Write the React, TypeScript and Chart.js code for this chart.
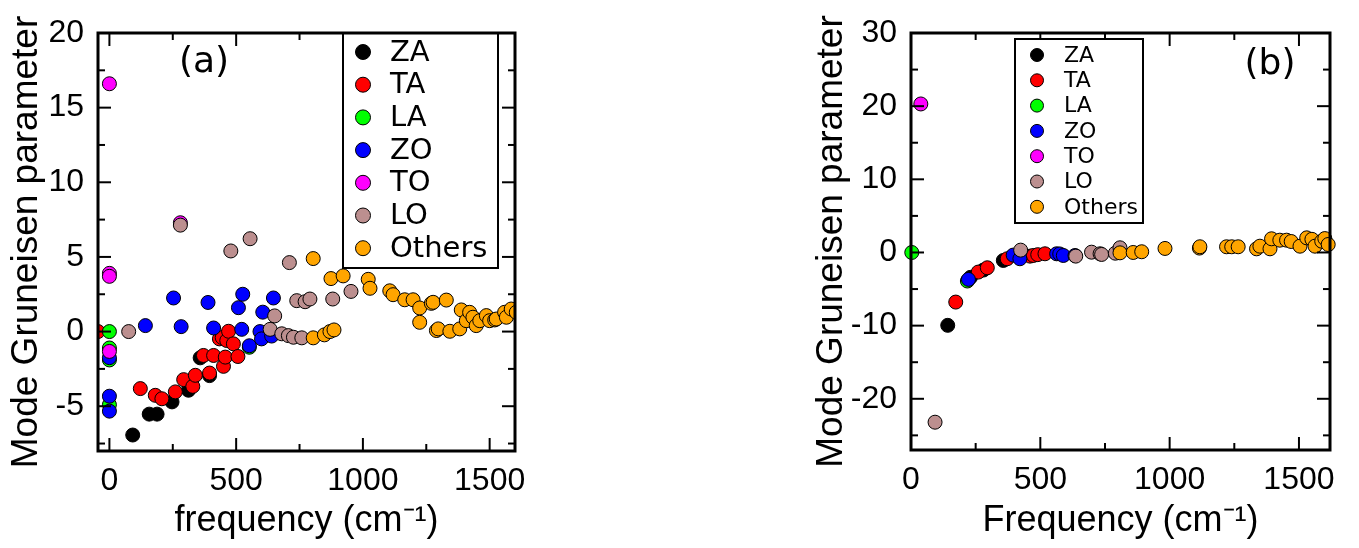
import React, { useEffect, useRef } from "react";
import { Chart, registerables } from "chart.js";

Chart.register(...registerables);

type Pt = [number, number];

// ---------- shared ----------
const seriesNames = ["ZA", "TA", "LA", "ZO", "TO", "LO", "Others"];
const seriesColors = ["#000000", "#ff0000", "#00ff00", "#0000ff", "#ff00ff", "#bc8f8f", "#ffa500"];
const xMajorTicks = [0, 500, 1000, 1500];
const xMinorTicks = [250, 750, 1250];

// ---------- panel (a) ----------
const yMajorTicksA = [-5, 0, 5, 10, 15, 20];
const yMinorTicksA = [-7.5, -2.5, 2.5, 7.5, 12.5, 17.5];

const zaA: Pt[] = [[92, -6.93], [157, -5.53], [188, -5.53], [247, -4.71], [312, -3.93], [358, -1.76], [395, -2.95], [440, -0.45]];
const taA: Pt[] = [[-45, 0], [122, -3.82], [181, -4.27], [207, -4.5], [260, -4.04], [293, -3.22], [329, -3.67], [339, -2.93], [371, -1.6], [395, -2.78], [411, -1.6], [434, -0.49], [445, -0.4], [450, -2.33], [457, -1.71], [463, -0.6], [470, 0.02], [489, -0.82], [507, -1.67]];
const laA: Pt[] = [[0, 0], [0, -1.1], [0, -1.9], [0, -4.9], [552, -1.05]];
const zoA: Pt[] = [[0, -1.75], [0, -4.33], [0, -5.33], [142, 0.4], [253, 2.25], [283, 0.33], [389, 1.95], [411, 0.24], [509, 1.6], [522, 0.15], [526, 2.5], [552, -0.95], [594, 0], [600, -0.49], [605, 1.3], [640, -0.3], [647, 2.25]];
const toA: Pt[] = [[0, 16.6], [0, 3.9], [0, 3.7], [0, -1.33], [280, 7.29]];
const loA: Pt[] = [[76, 0], [280, 7.13], [479, 5.4], [555, 6.22], [634, 0.15], [652, 1.05], [680, -0.15], [706, -0.27], [710, 4.62], [726, -0.38], [739, 2.07], [759, -0.42], [772, 2.0], [791, 2.18], [881, 2.18], [953, 2.69]];
const othersA: Pt[] = [[804, 4.89], [804, -0.42], [848, -0.22], [870, 0], [886, 0.11], [874, 3.55], [922, 3.73], [1021, 3.5], [1028, 2.9], [1106, 2.73], [1119, 2.47], [1165, 2.13], [1198, 2.13], [1224, 1.58], [1224, 0.62], [1270, 1.89], [1277, 1.96], [1329, 2.11], [1290, 0.07], [1297, 0.18], [1343, 0.02], [1382, 0.18], [1388, 1.45], [1408, 0.73], [1421, 1.29], [1434, 0.96], [1447, 0.4], [1461, 0.73], [1487, 1.07], [1500, 0.73], [1520, 0.78], [1526, 0.84], [1559, 1.29], [1566, 0.96], [1585, 1.51], [1605, 1.29]];

// ---------- panel (b) ----------
const yMajorTicksB = [-20, -10, 0, 10, 20, 30];
const yMinorTicksB = [-25, -15, -5, 5, 15, 25];

const zaB: Pt[] = [[142, -9.96], [230, -3.4], [280, -2.4], [357, -1.09]];
const taB: Pt[] = [[173, -6.78], [260, -2.68], [295, -2.09], [372, -0.86], [460, -0.5], [473, -0.41], [490, -0.3], [518, -0.18]];
const laB: Pt[] = [[3, 0], [218, -3.9]];
const zoB: Pt[] = [[222, -3.68], [395, -0.36], [421, -0.86], [563, -0.18], [575, -0.2], [589, -0.41], [634, -0.41]];
const toB: Pt[] = [[38, 20.3]];
const loB: Pt[] = [[93, -23.2], [424, 0.32], [637, -0.5], [698, 0.04], [731, -0.18], [737, -0.27], [790, -0.1], [808, 0.64]];
const othersB: Pt[] = [[808, -0.05], [859, 0], [892, 0.1], [982, 0.55], [1115, 0.6], [1117, 0.78], [1220, 0.78], [1240, 0.78], [1265, 0.78], [1336, 0.5], [1349, 0.86], [1388, 0.5], [1394, 1.87], [1426, 1.68], [1452, 1.68], [1470, 1.5], [1504, 0.86], [1530, 2.0], [1550, 1.8], [1562, 0.86], [1588, 1.54], [1600, 1.9], [1613, 1.09]];

type PanelCfg = {
  tag: string;
  left: number;
  width: number;
  series: Pt[][];
  xMin: number;
  xMax: number;
  yMin: number;
  yMax: number;
  yMajor: number[];
  yMinor: number[];
  xTitle: string;
  yAxisWidth: number;
  xAxisHeight: number;
  padTop: number;
  padRight: number;
  yTitlePad: number;
  clip: boolean;
  label: string;
  labelX: number;
  labelY: number;
  legend: { x: number; y: number; w: number; h: number; mx: number; tx: number; row0: number; step: number; font: number; r: number };
};

const panelA: PanelCfg = {
  tag: "a",
  left: 0,
  width: 540,
  series: [zaA, taA, laA, zoA, toA, loA, othersA],
  xMin: -45,
  xMax: 1600,
  yMin: -8,
  yMax: 20,
  yMajor: yMajorTicksA,
  yMinor: yMinorTicksA,
  xTitle: "frequency (cm\u207B\u00B9)",
  yAxisWidth: 98,
  xAxisHeight: 97,
  padTop: 33,
  padRight: 25,
  yTitlePad: 5,
  clip: true,
  label: "(a)",
  labelX: 204,
  labelY: 63,
  legend: { x: 343, y: 33, w: 155, h: 235, mx: 363, tx: 390, row0: 52, step: 32.7, font: 29, r: 7.5 },
};

const panelB: PanelCfg = {
  tag: "b",
  left: 800,
  width: 559,
  series: [zaB, taB, laB, zoB, toB, loB, othersB],
  xMin: 0,
  xMax: 1620,
  yMin: -27,
  yMax: 30,
  yMajor: yMajorTicksB,
  yMinor: yMinorTicksB,
  xTitle: "Frequency (cm\u207B\u00B9)",
  yAxisWidth: 111,
  xAxisHeight: 98,
  padTop: 33,
  padRight: 29,
  yTitlePad: 10,
  clip: false,
  label: "(b)",
  labelX: 470,
  labelY: 65,
  legend: { x: 215, y: 39, w: 128, h: 184, mx: 237, tx: 264, row0: 55, step: 25.3, font: 22, r: 6.5 },
};

function makeDecorPlugin(cfg: PanelCfg) {
  return {
    id: "decor_" + cfg.tag,
    afterDatasetsDraw(chart: any) {
      const { ctx, chartArea: a, scales } = chart;
      const xs = scales.x;
      const ys = scales.y;
      ctx.save();
      ctx.strokeStyle = "#000";
      ctx.lineCap = "butt";
      const line = (x1: number, y1: number, x2: number, y2: number) => {
        ctx.beginPath();
        ctx.moveTo(x1, y1);
        ctx.lineTo(x2, y2);
        ctx.stroke();
      };
      ctx.lineWidth = 2;
      const major = 13;
      const minor = 7;
      xMajorTicks.forEach((v) => {
        const p = xs.getPixelForValue(v);
        line(p, a.bottom, p, a.bottom - major);
        line(p, a.top, p, a.top + major);
      });
      xMinorTicks.forEach((v) => {
        const p = xs.getPixelForValue(v);
        line(p, a.bottom, p, a.bottom - minor);
        line(p, a.top, p, a.top + minor);
      });
      cfg.yMajor.forEach((v) => {
        const p = ys.getPixelForValue(v);
        line(a.left, p, a.left + major, p);
        line(a.right, p, a.right - major, p);
      });
      cfg.yMinor.forEach((v) => {
        const p = ys.getPixelForValue(v);
        line(a.left, p, a.left + minor, p);
        line(a.right, p, a.right - minor, p);
      });

      // legend box
      const L = cfg.legend;
      ctx.fillStyle = "#fff";
      ctx.fillRect(L.x, L.y, L.w, L.h);
      ctx.lineWidth = 2;
      ctx.strokeRect(L.x, L.y, L.w, L.h);
      ctx.font = `${L.font}px "DejaVu Sans"`;
      ctx.textBaseline = "middle";
      ctx.textAlign = "left";
      chart.data.datasets.forEach((ds: any, i: number) => {
        const cy = L.row0 + i * L.step;
        ctx.beginPath();
        ctx.arc(L.mx, cy, L.r, 0, Math.PI * 2);
        ctx.fillStyle = ds.backgroundColor;
        ctx.fill();
        ctx.lineWidth = 1;
        ctx.strokeStyle = "#000";
        ctx.stroke();
        ctx.fillStyle = "#000";
        ctx.fillText(ds.label, L.tx, cy + 1);
      });

      // panel label
      ctx.font = `36px "DejaVu Sans"`;
      ctx.textAlign = "center";
      ctx.textBaseline = "middle";
      ctx.fillStyle = "#000";
      ctx.fillText(cfg.label, cfg.labelX, cfg.labelY);

      // frame
      ctx.lineWidth = 3;
      ctx.strokeStyle = "#000";
      ctx.strokeRect(a.left, a.top, a.right - a.left, a.bottom - a.top);
      ctx.restore();
    },
  };
}

function Panel({ cfg }: { cfg: PanelCfg }) {
  const ref = useRef<HTMLCanvasElement>(null);
  useEffect(() => {
    const canvas = ref.current;
    if (!canvas) return;
    const datasets = cfg.series.map((pts, i) => ({
      label: seriesNames[i],
      data: pts.map(([x, y]) => ({ x, y })),
      backgroundColor: seriesColors[i],
      borderColor: "#000000",
      borderWidth: 1,
      pointRadius: 7,
      pointHoverRadius: 7,
      order: seriesNames.length - i,
      clip: cfg.clip ? 0 : false,
    }));
    const chart = new Chart(canvas, {
      type: "scatter",
      data: { datasets: datasets as any },
      options: {
        animation: false,
        responsive: false,
        events: [],
        layout: { padding: { top: cfg.padTop, right: cfg.padRight, left: 0, bottom: 0 } },
        plugins: { legend: { display: false }, tooltip: { enabled: false } },
        scales: {
          x: {
            type: "linear",
            min: cfg.xMin,
            max: cfg.xMax,
            grid: { display: false },
            border: { display: false },
            afterBuildTicks: (s: any) => {
              s.ticks = xMajorTicks.map((v) => ({ value: v }));
            },
            afterFit: (s: any) => {
              s.height = cfg.xAxisHeight;
            },
            ticks: {
              color: "#000",
              padding: 3,
              maxRotation: 0,
              autoSkip: false,
              font: { family: "Liberation Sans", size: 32 },
              callback: (v: any) => String(v),
            },
            title: {
              display: true,
              text: cfg.xTitle,
              color: "#000",
              padding: { top: 0, bottom: 5 },
              font: { family: "Liberation Sans", size: 36 },
            },
          },
          y: {
            type: "linear",
            min: cfg.yMin,
            max: cfg.yMax,
            grid: { display: false },
            border: { display: false },
            afterBuildTicks: (s: any) => {
              s.ticks = cfg.yMajor.map((v) => ({ value: v }));
            },
            afterFit: (s: any) => {
              s.width = cfg.yAxisWidth;
            },
            ticks: {
              color: "#000",
              padding: 6,
              autoSkip: false,
              font: { family: "Liberation Sans", size: 32 },
              callback: (v: any) => String(v),
            },
            title: {
              display: true,
              text: "Mode Gruneisen parameter",
              color: "#000",
              padding: { top: cfg.yTitlePad, bottom: 0 },
              font: { family: "Liberation Sans", size: 37 },
            },
          },
        },
      },
      plugins: [makeDecorPlugin(cfg)],
    });
    return () => chart.destroy();
  }, [cfg]);
  return (
    <canvas
      ref={ref}
      width={cfg.width}
      height={548}
      style={{ position: "absolute", left: cfg.left, top: 0, width: cfg.width, height: 548 }}
    />
  );
}

export default function App() {
  return (
    <div style={{ position: "absolute", left: 0, top: 0, width: 1359, height: 548, background: "#fff" }}>
      <Panel cfg={panelA} />
      <Panel cfg={panelB} />
    </div>
  );
}
